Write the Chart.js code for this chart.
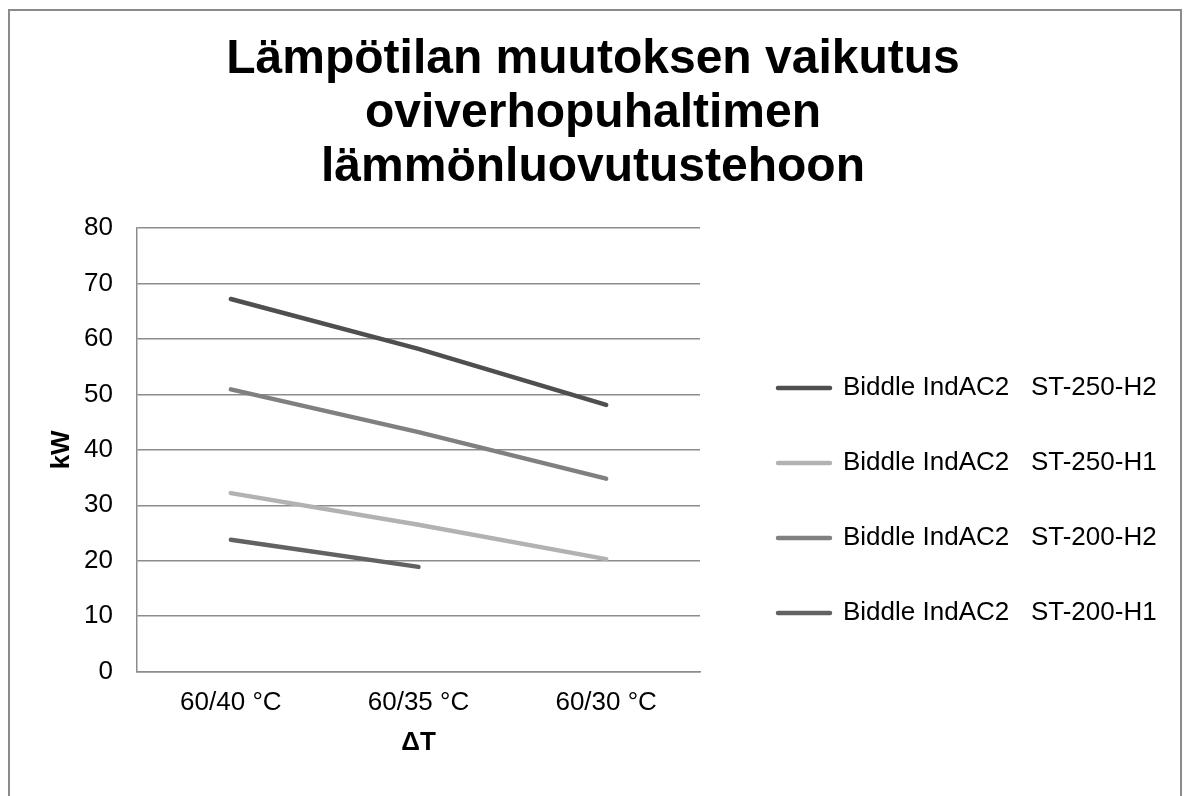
<!DOCTYPE html>
<html>
<head>
<meta charset="utf-8">
<script src="https://cdn.jsdelivr.net/npm/chart.js@4.4.1/dist/chart.umd.min.js"></script>
<style>
  body { margin: 0; background: #fff; }
  #frame { position: absolute; left: 8px; top: 9px; width: 1170px; height: 900px; border: 2px solid #8b8b8b; border-bottom: none; }
  #chart { position: absolute; left: 0; top: 0; }
</style>
</head>
<body>
<div id="frame"></div>
<canvas id="chart" width="1186" height="796"></canvas>
<script>
// data
const categories = ['60/40 °C', '60/35 °C', '60/30 °C'];
const st250h2 = [67.2, 58.2, 48.1];
const st250h1 = [32.2, 26.5, 20.3];
const st200h2 = [50.9, 43.2, 34.8];
const st200h1 = [23.8, 18.9, null];
const seriesNames = ['Biddle IndAC2   ST-250-H2', 'Biddle IndAC2   ST-250-H1', 'Biddle IndAC2   ST-200-H2', 'Biddle IndAC2   ST-200-H1'];
const titleLines = ['Lämpötilan muutoksen vaikutus', 'oviverhopuhaltimen', 'lämmönluovutustehoon'];

// layout
const PLOT_LEFT = 137;
const PLOT_RIGHT = 700;
const PLOT_BOTTOM = 671.7;
const LEGEND_LEFT = 729;
const LEGEND_TOP = 205;

Chart.defaults.font.family = "'Liberation Sans', Arial, sans-serif";
Chart.defaults.color = '#000';

function line(label, data, color) {
    return {
        label: label,
        data: data,
        borderColor: color,
        backgroundColor: color,
        borderWidth: 4.5,
        borderCapStyle: 'round',
        borderJoinStyle: 'round',
        pointRadius: 0,
        pointHoverRadius: 0,
        tension: 0,
        fill: false
    };
}

// stretch the legend box and park it where the picture has it
const layoutFix = {
    id: 'layoutFix',
    afterInit(chart) {
        const lg = chart.legend;
        const fit = lg.fit;
        lg.fit = function () {
            fit.call(this);
            this.width = chart.width - PLOT_RIGHT;
        };
    },
    afterLayout(chart) {
        const lg = chart.legend;
        lg.left = LEGEND_LEFT;
        lg.right = chart.width;
        lg.width = lg.right - lg.left;
        lg.top = LEGEND_TOP;
        lg.bottom = chart.height;
        lg.height = lg.bottom - lg.top;
    }
};

const gridColor = '#8c8c8c';

new Chart(document.getElementById('chart'), {
    type: 'line',
    data: {
        labels: categories,
        datasets: [
            line(seriesNames[0], st250h2, '#4f4f4f'),
            line(seriesNames[1], st250h1, '#b2b2b2'),
            line(seriesNames[2], st200h2, '#808080'),
            line(seriesNames[3], st200h1, '#626262')
        ]
    },
    options: {
        responsive: false,
        animation: false,
        layout: { padding: 0 },
        scales: {
            x: {
                offset: true,
                grid: { display: false, drawTicks: false },
                border: { display: true, color: gridColor, width: 1.5 },
                ticks: { font: { size: 26 }, padding: 16, maxRotation: 0 },
                title: { display: true, text: 'ΔT', font: { size: 26, weight: 'bold' }, padding: { top: 0, bottom: 38 } },
                afterFit: s => { s.height = 796 - PLOT_BOTTOM; }
            },
            y: {
                min: 0,
                max: 80,
                ticks: { stepSize: 10, font: { size: 26 }, padding: 24 },
                grid: { color: gridColor, lineWidth: 1.5, drawTicks: false },
                border: { display: true, color: gridColor, width: 1.5 },
                title: { display: true, text: 'kW', font: { size: 26, weight: 'bold' }, padding: { top: 46 } },
                afterFit: s => { s.width = PLOT_LEFT; }
            }
        },
        plugins: {
            title: {
                display: true,
                text: titleLines,
                font: { size: 48, weight: 'bold', lineHeight: 1.125 },
                color: '#000',
                padding: { top: 33, bottom: 33 }
            },
            legend: {
                position: 'right',
                align: 'center',
                labels: {
                    font: { size: 26 },
                    color: '#000',
                    usePointStyle: true,
                    pointStyle: 'line',
                    pointStyleWidth: 52,
                    boxWidth: 52,
                    padding: 49,
                    generateLabels: chart => chart.data.datasets.map((ds, i) => ({
                        text: ds.label,
                        strokeStyle: ds.borderColor,
                        fillStyle: ds.borderColor,
                        lineWidth: 4.5,
                        lineCap: 'round',
                        pointStyle: 'line',
                        fontColor: '#000',
                        hidden: false,
                        datasetIndex: i
                    }))
                }
            },
            tooltip: { enabled: false }
        }
    },
    plugins: [layoutFix]
});
</script>
</body>
</html>
